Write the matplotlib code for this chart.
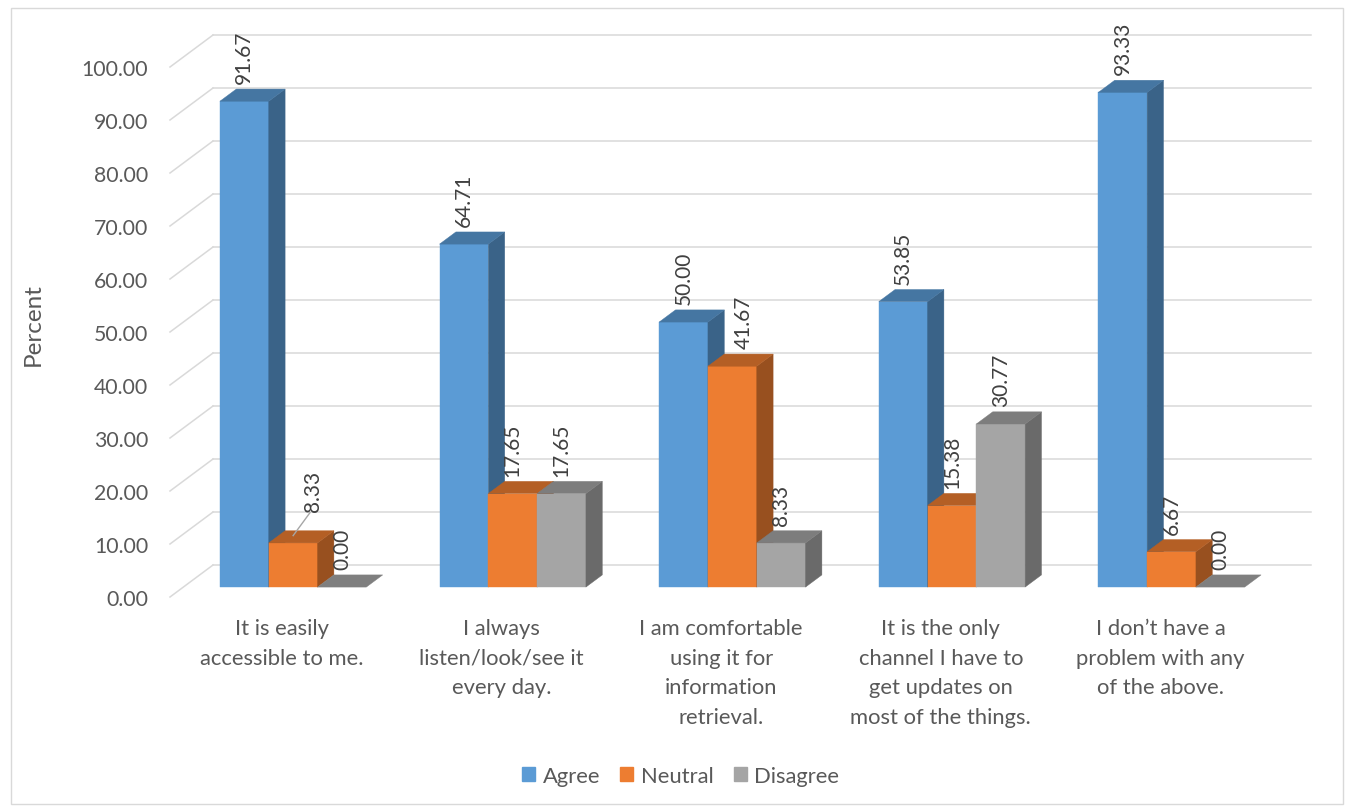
import numpy as np
import matplotlib
matplotlib.use("Agg")
import matplotlib.pyplot as plt
from matplotlib.patches import Polygon, Rectangle, Patch

# data
categories = [
    "It is easily\naccessible to me.",
    "I always\nlisten/look/see it\nevery day.",
    "I am comfortable\nusing it for\ninformation\nretrieval.",
    "It is the only\nchannel I have to\nget updates on\nmost of the things.",
    "I don\u2019t have a\nproblem with any\nof the above.",
]
series = ["Agree", "Neutral", "Disagree"]
agree = [91.67, 64.71, 50.00, 53.85, 93.33]
neutral = [8.33, 17.65, 41.67, 15.38, 6.67]
disagree = [0.00, 17.65, 8.33, 30.77, 0.00]
y_ticks = [0, 10, 20, 30, 40, 50, 60, 70, 80, 90, 100]

values = [agree, neutral, disagree]
colors = ["#5b9bd5", "#ed7d31", "#a5a5a5"]

plt.rcParams['font.family'] = ['Lato', 'DejaVu Sans']
TXT = "#595959"
GRID = "#d9d9d9"


def shade(c, k):
    r, g, b = matplotlib.colors.to_rgb(c)
    return (r * k, g * k, b * k)


fig = plt.figure(figsize=(13.48, 8.12), dpi=100)
ax = fig.add_axes([0, 0, 1, 1])
# 1 category = 219.6 px, 1 percent = 5.3 px
ax.set_xlim(-170 / 219.6, (1348 - 170) / 219.6)
ax.set_ylim((598 - 812) / 5.3, 598 / 5.3)
ax.axis("off")

fig.patches.append(Rectangle((11 / 1348, 7 / 812), 1332 / 1348, 796 / 812,
                             transform=fig.transFigure, fill=False,
                             edgecolor=GRID, lw=1.0))

n = len(categories)
DX, DY = 0.196, 6.04        # floor depth
bx0, by0 = 0.31 * DX, 0.31 * DY
bdx, bdy = 0.38 * DX, 0.38 * DY
w = 1 / 4.5                 # gap width 150%

# walls / gridlines
for t in y_ticks:
    ax.plot([0, DX], [t, t + DY], color=GRID, lw=1.1, zorder=1)
    ax.plot([DX, n + DX], [t + DY, t + DY], color=GRID, lw=1.1, zorder=1)
    ax.text(-0.10, t - 0.3, "%.2f" % t, ha="right", va="center", fontsize=15.3, color=TXT)

# bars
nudge = {(0, 1): (0.09, 2.6), (2, 1): (0.05, 0.0)}
for i in range(n):
    for j in range(len(series)):
        v = values[j][i]
        c = colors[j]
        xl = i + 0.5 + (j - 1) * w - w / 2 + bx0
        top = by0 + v
        if v > 0:
            ax.add_patch(Rectangle((xl, by0), w, v, facecolor=c, edgecolor=c, lw=0.3, zorder=3))
            ax.add_patch(Polygon([(xl + w, by0), (xl + w + bdx, by0 + bdy),
                                  (xl + w + bdx, top + bdy), (xl + w, top)],
                                 closed=True, facecolor=shade(c, 0.64),
                                 edgecolor=shade(c, 0.64), lw=0.3, zorder=3))
        tc = shade(c, 0.76) if v > 0 else "#7f7f7f"
        ax.add_patch(Polygon([(xl, top), (xl + w, top), (xl + w + bdx, top + bdy),
                              (xl + bdx, top + bdy)], closed=True,
                             facecolor=tc, edgecolor=tc, lw=0.3, zorder=3))
        lx = xl + w / 2
        ly = top + bdy + 1.1
        if (i, j) in nudge:
            ox, oy = nudge[(i, j)]
            if oy > 1:
                ax.plot([lx, lx + ox * 0.85], [top + bdy * 0.6, ly + oy - 0.3],
                        color="#a6a6a6", lw=1.0, zorder=4)
            lx, ly = lx + ox, ly + oy
        ax.text(lx, ly, "%.2f" % v, rotation=90, ha="center", va="bottom",
                fontsize=15, color="#404040", zorder=5)

# category labels
for i, cat in enumerate(categories):
    ax.text(i + 0.51, -4.0, cat, ha="center", va="top", fontsize=15.8,
            color=TXT, linespacing=1.6)

ax.text(-0.625, 51.5, "Percent", rotation=90, ha="center", va="center",
        fontsize=17.5, color=TXT)

handles = [Patch(facecolor=c, edgecolor=c) for c in colors]
fig.legend(handles, series, loc="center", bbox_to_anchor=(0.505, 0.043),
           ncol=3, frameon=False, fontsize=15.8, handlelength=0.6,
           handleheight=0.6, handletextpad=0.35, columnspacing=0.9,
           labelcolor=TXT)

fig.savefig("out.png", dpi=100)
